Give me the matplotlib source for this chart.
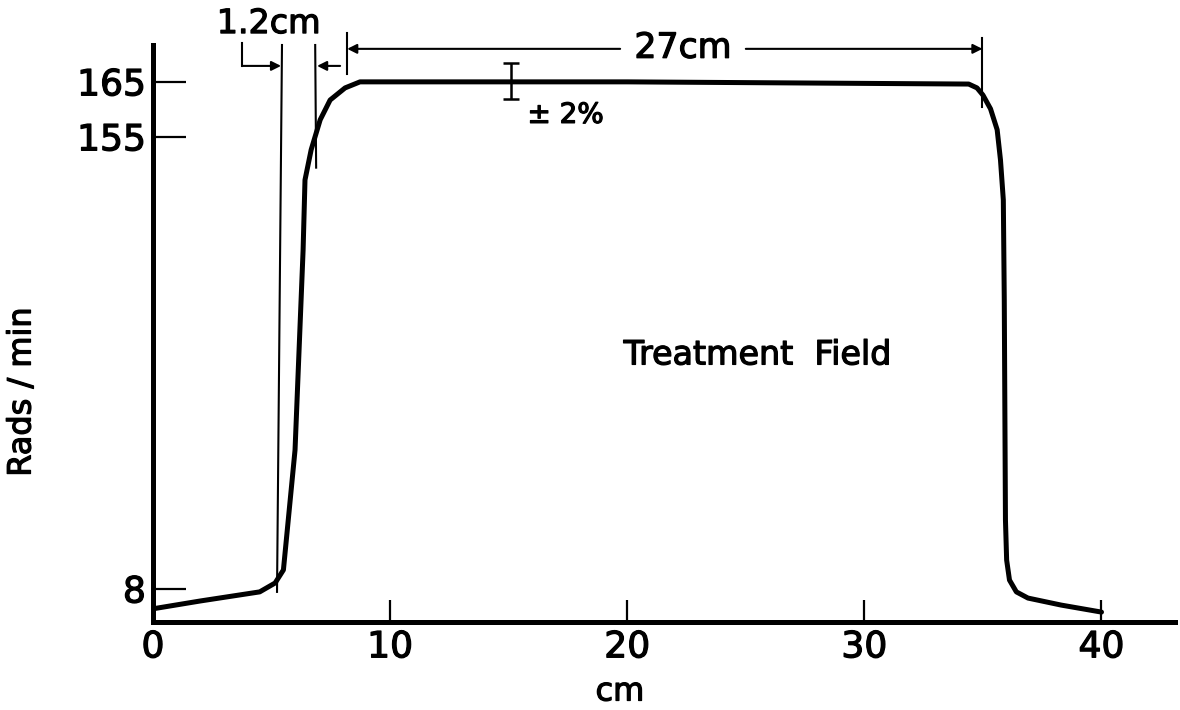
import numpy as np
import matplotlib
matplotlib.use("Agg")
import matplotlib.pyplot as plt
import matplotlib.patheffects as pe

# ---- data ----
x_cm = [0, 2.0, 4.5, 5.15, 5.5, 5.99, 6.33, 6.41, 6.67, 7.05, 7.47, 8.1, 8.73,
        20.0, 34.4, 34.75, 35.0, 35.32, 35.6, 35.74, 35.86, 35.9, 35.95, 36.0, 36.12,
        36.41, 36.9, 38.3, 40.0]
rads_min = [3.2, 5.1, 7.3, 9.95, 14.2, 53.2, 118.2, 141.0, 150.8, 158.1, 161.7, 163.9, 165.0,
            165.0, 164.6, 163.9, 162.6, 160.1, 156.3, 147.5, 134.5, 102.0, 30.4, 17.4, 10.9,
            7.3, 5.8, 4.1, 2.4]
x_ticks = [0, 10, 20, 30, 40]
y_ticks = [8, 155, 165]
err_x, err_y, err_pct = 15.1, 165.2, 0.02

# non-uniform (hand-drawn) vertical scale
_vals = [-100, 0, 8, 155, 165, 400]
_pos = [-412.5, 0, 33, 485, 540, 1832.5]
def fwd(v):
    return np.interp(v, _vals, _pos)
def inv(p):
    return np.interp(p, _pos, _vals)

plt.rcParams['font.family'] = ['DejaVu Sans']
fig = plt.figure(figsize=(11.8, 7.1), dpi=100)
ax = fig.add_axes([153/1180, 1-622/710, (1175-153)/1180, (622-45)/710])
ax.set_yscale('function', functions=(fwd, inv))
ax.set_xlim(0, 43.1)
ax.set_ylim(0, 171.7)

for s in ['top', 'right']:
    ax.spines[s].set_visible(False)
for s in ['left', 'bottom']:
    ax.spines[s].set_linewidth(3.6)

ax.plot(x_cm, rads_min, color='black', lw=3.6, solid_capstyle='round', solid_joinstyle='round')

ax.set_xticks(x_ticks)
ax.set_xticklabels([str(t) for t in x_ticks])
ax.set_yticks(y_ticks)
ax.set_yticklabels([str(t) for t in y_ticks])
ax.minorticks_off()
ax.tick_params(axis='x', direction='in', length=16, width=1.6, labelsize=26, pad=6)
ax.tick_params(axis='y', direction='in', length=24, width=1.6, labelsize=26, pad=5)

bold = [pe.withStroke(linewidth=0.9, foreground='black')]

ax.set_xlabel('cm', fontsize=23)
ax.xaxis.set_label_coords((620-153)/1022, (622-692)/577)
ax.xaxis.label.set_va('center')
ax.set_ylabel('Rads / min', fontsize=23)
ax.yaxis.set_label_coords((22-153)/1022, (622-392)/577)
ax.yaxis.label.set_va('center')
ax.xaxis.label.set_path_effects(bold)
ax.yaxis.label.set_path_effects(bold)
for lab in ax.get_xticklabels() + ax.get_yticklabels():
    lab.set_path_effects(bold)

# error bar +-2%
ax.errorbar([err_x], [err_y], yerr=[err_y*err_pct], fmt='none', ecolor='black',
            elinewidth=1.8, capsize=6, capthick=1.8, clip_on=False)
ax.text(17.4, 159, '± 2%', fontsize=20, ha='center', va='center', path_effects=bold)

ax.text(25.5, 84.1, 'Treatment  Field', fontsize=24, ha='center', va='center', path_effects=bold)

thin = dict(color='black', lw=1.5, clip_on=False)
# 1.2 cm penumbra lines
ax.plot([5.44, 5.23], [171.7, 7.3], **thin)
ax.plot([6.84, 6.88], [171.7, 145], **thin)
ax.plot([3.76, 3.76], [172.1, 167.9], **thin)
arr = dict(arrowstyle='-|>', color='black', lw=1.5, shrinkA=0, shrinkB=0, mutation_scale=14)
ax.annotate('', xy=(5.40, 167.9), xytext=(3.76, 167.9), arrowprops=arr, annotation_clip=False)
ax.annotate('', xy=(6.92, 167.9), xytext=(7.89, 167.9), arrowprops=arr, annotation_clip=False)
ax.text(4.89, 175.6, '1.2cm', fontsize=24, ha='center', va='center', clip_on=False, path_effects=bold)

# 27 cm dimension
ax.plot([8.19, 8.19], [166.5, 173.9], **thin)
ax.plot([34.98, 34.98], [160.5, 172.9], **thin)
ax.annotate('', xy=(8.19, 171.0), xytext=(19.7, 171.0), arrowprops=arr, annotation_clip=False)
ax.annotate('', xy=(34.98, 171.0), xytext=(25.0, 171.0), arrowprops=arr, annotation_clip=False)
ax.text(22.35, 171.2, '27cm', fontsize=25, ha='center', va='center', clip_on=False, path_effects=bold)

fig.savefig('out.png', dpi=100)
